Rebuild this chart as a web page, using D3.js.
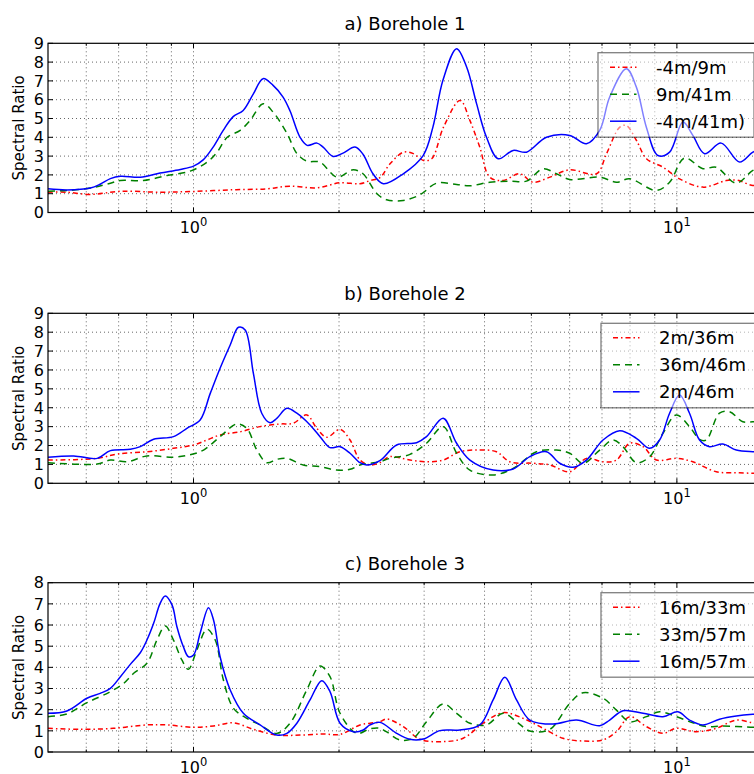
<!DOCTYPE html>
<html><head><meta charset="utf-8">
<script src="https://cdn.jsdelivr.net/npm/d3@7"></script>
<style>body{margin:0;background:#fff}svg{display:block}text{font-family:"DejaVu Sans",sans-serif;fill:#000}</style>
</head><body><svg id="chart" width="754" height="774"></svg>
<script>
// ---------- data ----------
const panelTitles = ["a) Borehole 1", "b) Borehole 2", "c) Borehole 3"];
const yLabel = "Spectral Ratio";
const xDomain = [0.5, 15];
const xTickValues = [1, 10];
const xTickLabels = [["10", "0"], ["10", "1"]];
const xMinorTicks = [0.6, 0.7, 0.8, 0.9, 2, 3, 4, 5, 6, 7, 8, 9];
const yTicksAB = [0, 1, 2, 3, 4, 5, 6, 7, 8, 9];
const yTicksC = [0, 1, 2, 3, 4, 5, 6, 7, 8];
const legendA = ["-4m/9m", "9m/41m", "-4m/41m)"];
const legendB = ["2m/36m", "36m/46m", "2m/46m"];
const legendC = ["16m/33m", "33m/57m", "16m/57m"];

// Borehole 1  [frequency, spectral ratio]
const aRed = [[0.5,1.08],[0.547,1.08],[0.612,0.96],[0.706,1.13],[0.853,1.08],[1.0,1.12],[1.21,1.21],[1.42,1.26],[1.58,1.4],[1.80,1.31],[2.01,1.58],[2.21,1.53],[2.32,1.7],[2.43,1.85],[2.55,2.59],[2.72,3.21],[2.85,3.13],[2.99,2.77],[3.11,2.86],[3.29,4.54],[3.56,5.96],[3.73,4.9],[3.91,3.48],[4.10,1.88],[4.37,1.7],[4.73,2.06],[5.04,1.61],[5.46,1.88],[6.0,2.27],[6.82,2.06],[7.15,3.12],[7.62,4.54],[7.86,4.63],[8.25,3.83],[8.65,2.86],[9.36,2.41],[10.13,1.79],[11.32,1.35],[12.65,1.70],[13.3,1.72],[14.36,1.44],[15,1.5]];
const aGreen = [[0.5,1.13],[0.547,1.17],[0.612,1.3],[0.673,1.56],[0.706,1.7],[0.787,1.7],[0.882,1.97],[0.984,2.2],[1.067,2.68],[1.119,3.21],[1.174,4.0],[1.249,4.37],[1.31,4.9],[1.393,5.79],[1.461,5.34],[1.562,4.19],[1.638,3.12],[1.718,2.73],[1.827,2.68],[1.981,1.88],[2.138,2.27],[2.242,2.06],[2.396,1.0],[2.51,0.68],[2.716,0.64],[2.94,0.94],[3.184,1.56],[3.502,1.49],[3.731,1.42],[4.102,1.61],[4.512,1.67],[4.885,1.67],[5.286,2.33],[5.633,2.06],[6.003,1.76],[6.924,1.88],[7.497,1.61],[7.986,1.79],[9.067,1.17],[9.659,1.61],[10.37,2.9],[11.32,2.33],[12.06,2.41],[13.27,1.56],[14.36,2.24],[15,2.4]];
const aBlue = [[0.5,1.26],[0.547,1.2],[0.612,1.3],[0.641,1.5],[0.673,1.8],[0.706,1.93],[0.776,1.88],[0.853,2.1],[0.939,2.29],[1.0,2.47],[1.047,2.8],[1.098,3.48],[1.152,4.37],[1.208,5.1],[1.267,5.43],[1.329,6.3],[1.393,7.12],[1.461,6.76],[1.532,6.14],[1.584,5.4],[1.661,4.0],[1.718,3.57],[1.801,3.69],[1.854,3.48],[1.944,2.98],[2.039,3.16],[2.158,3.48],[2.242,3.1],[2.351,2.06],[2.47,1.53],[2.716,2.06],[2.986,3.03],[3.128,4.54],[3.281,7.03],[3.502,8.71],[3.673,7.74],[3.851,5.79],[4.038,4.0],[4.268,2.86],[4.584,3.3],[4.885,3.21],[5.373,4.0],[6.003,4.1],[6.5,3.66],[6.924,4.37],[7.261,6.14],[7.862,7.65],[8.245,6.67],[8.647,4.54],[9.136,3.03],[9.659,3.21],[10.29,4.81],[10.79,4.1],[11.41,3.13],[12.35,3.69],[13.48,2.68],[14.36,3.21],[15,3.4]];

// Borehole 2
const bRed = [[0.5,1.23],[0.632,1.32],[0.695,1.55],[0.801,1.67],[0.909,1.85],[1.0,2.03],[1.066,2.29],[1.135,2.56],[1.249,2.73],[1.373,3.0],[1.51,3.14],[1.609,3.18],[1.715,3.62],[1.799,2.91],[1.887,2.44],[2.01,2.86],[2.108,2.29],[2.21,1.23],[2.318,0.97],[2.43,1.09],[2.55,1.41],[2.804,1.23],[3.034,1.14],[3.285,1.23],[3.556,1.67],[3.851,1.76],[4.235,1.67],[4.512,1.14],[5.041,1.06],[5.458,0.97],[6.003,0.61],[6.5,1.32],[7.034,1.14],[7.497,1.23],[7.986,2.12],[8.509,1.94],[9.067,1.23],[9.972,1.32],[10.79,1.14],[12.06,0.61],[13.27,0.56],[14.36,0.53],[15,0.52]];
const bGreen = [[0.5,1.09],[0.632,1.02],[0.673,1.23],[0.729,1.14],[0.801,1.45],[0.909,1.38],[0.984,1.51],[1.049,1.76],[1.135,2.47],[1.229,3.14],[1.289,2.91],[1.352,1.76],[1.418,1.09],[1.487,1.27],[1.56,1.32],[1.687,0.97],[1.827,0.88],[1.978,0.7],[2.108,0.74],[2.21,0.97],[2.318,1.06],[2.43,1.14],[2.55,1.32],[2.804,1.53],[3.034,2.12],[3.285,3.0],[3.502,1.59],[3.731,0.7],[4.167,0.44],[4.584,0.79],[5.123,1.67],[5.633,1.76],[6.003,1.59],[6.396,1.06],[6.924,1.76],[7.377,2.29],[7.735,1.94],[8.245,1.09],[8.783,1.41],[9.357,2.65],[9.972,3.62],[10.62,3.0],[11.14,2.33],[11.5,2.29],[12.25,3.71],[12.85,3.79],[13.69,3.26],[14.36,3.26],[15,3.3]];
const bBlue = [[0.5,1.38],[0.565,1.45],[0.632,1.32],[0.673,1.73],[0.74,1.8],[0.776,1.94],[0.827,2.33],[0.909,2.47],[0.969,2.91],[1.032,3.35],[1.083,4.76],[1.135,6.09],[1.191,7.32],[1.239,8.26],[1.279,8.12],[1.33,5.82],[1.384,3.71],[1.44,3.21],[1.487,3.44],[1.56,3.97],[1.636,3.71],[1.742,3.09],[1.827,2.47],[1.916,1.89],[2.01,1.94],[2.108,1.59],[2.21,1.09],[2.282,0.97],[2.43,1.2],[2.632,2.03],[2.894,2.15],[3.034,2.47],[3.285,3.44],[3.502,2.12],[3.731,1.23],[4.167,0.7],[4.584,0.76],[4.963,1.41],[5.373,1.67],[5.722,1.06],[6.098,0.85],[6.5,1.23],[7.034,2.29],[7.615,2.78],[8.245,2.38],[8.783,1.85],[9.211,2.29],[9.659,3.71],[10.13,4.67],[10.62,3.71],[11.14,2.29],[11.68,1.94],[12.45,2.08],[13.27,1.76],[14.36,1.67],[15,1.66]];

// Borehole 3
const cRed = [[0.5,1.12],[0.583,1.07],[0.683,1.12],[0.801,1.28],[0.881,1.28],[1.0,1.17],[1.1,1.23],[1.21,1.38],[1.33,1.07],[1.487,0.8],[1.661,0.8],[1.857,0.85],[2.01,0.83],[2.21,1.28],[2.318,1.36],[2.43,1.43],[2.51,1.56],[2.716,1.2],[2.94,0.6],[3.285,0.49],[3.614,0.65],[3.974,1.36],[4.37,1.86],[4.807,1.59],[5.286,1.12],[5.813,0.65],[6.396,0.52],[7.034,0.57],[7.497,0.96],[7.986,1.67],[8.647,1.2],[9.357,0.88],[9.972,1.12],[10.97,0.96],[12.06,1.12],[13.27,1.51],[14.36,1.38],[15,1.35]];
const cGreen = [[0.5,1.67],[0.547,1.8],[0.602,2.33],[0.673,2.85],[0.717,3.24],[0.752,3.72],[0.801,4.19],[0.84,5.29],[0.874,5.95],[0.909,5.29],[0.946,4.35],[0.976,3.91],[1.016,4.82],[1.066,5.8],[1.109,5.29],[1.153,3.4],[1.21,2.06],[1.289,1.59],[1.373,1.28],[1.487,0.88],[1.584,1.36],[1.715,2.93],[1.827,4.06],[1.916,3.56],[2.01,1.83],[2.176,0.88],[2.318,1.1],[2.43,1.12],[2.51,0.95],[2.674,0.57],[2.848,0.65],[3.034,1.43],[3.285,2.27],[3.502,1.83],[3.731,1.36],[4.038,1.28],[4.37,1.83],[4.659,1.43],[4.963,0.99],[5.458,1.07],[6.003,2.3],[6.396,2.8],[7.034,2.54],[7.497,1.98],[7.986,1.43],[8.647,1.67],[9.211,1.9],[9.972,1.67],[10.79,1.38],[11.5,1.2],[12.45,1.23],[14.36,1.17],[15,1.17]];
const cBlue = [[0.5,1.83],[0.547,1.94],[0.602,2.54],[0.641,2.77],[0.673,3.01],[0.706,3.56],[0.74,4.14],[0.776,4.69],[0.801,5.29],[0.827,6.08],[0.853,7.02],[0.874,7.37],[0.903,6.94],[0.924,5.92],[0.953,4.97],[0.976,4.5],[1.0,4.58],[1.032,5.61],[1.074,6.82],[1.1,6.24],[1.135,4.5],[1.191,2.93],[1.268,1.83],[1.373,1.28],[1.487,0.8],[1.56,0.88],[1.636,1.36],[1.742,2.46],[1.842,3.37],[1.916,2.85],[2.01,1.36],[2.141,0.96],[2.245,1.04],[2.318,1.28],[2.43,1.4],[2.632,0.88],[2.804,0.6],[2.986,0.61],[3.234,1.01],[3.556,1.04],[3.912,1.28],[4.167,2.46],[4.406,3.53],[4.659,2.46],[4.963,1.51],[5.544,1.32],[6.197,1.51],[6.924,1.24],[7.261,1.51],[7.735,1.95],[8.509,1.83],[9.357,1.67],[10.05,1.9],[10.62,1.51],[11.32,1.28],[12.25,1.55],[13.27,1.7],[14.36,1.78],[15,1.8]];

// ---------- drawing ----------
const svg = d3.select("#chart");
const X0 = 48, X1 = 762;
const styles = [
  {color: "#ff0000", dash: "5,3,1.5,3"},
  {color: "#008000", dash: "7,5"},
  {color: "#0000ff", dash: null}
];
const panels = [
  {top: 43.3, bottom: 212.5, yMax: 9, yTicks: yTicksAB, series: [aRed, aGreen, aBlue], legend: legendA, lx: 598, ly: 52.7},
  {top: 313.3, bottom: 483.3, yMax: 9, yTicks: yTicksAB, series: [bRed, bGreen, bBlue], legend: legendB, lx: 601, ly: 323.3},
  {top: 582.7, bottom: 752, yMax: 8, yTicks: yTicksC, series: [cRed, cGreen, cBlue], legend: legendC, lx: 601, ly: 592.7}
];

const x = d3.scaleLog().domain(xDomain).range([X0, X1]);

panels.forEach((p, i) => {
  const y = d3.scaleLinear().domain([0, p.yMax]).range([p.bottom, p.top]);
  const g = svg.append("g");
  const clipId = "clip" + i;
  svg.append("clipPath").attr("id", clipId).append("rect")
    .attr("x", X0).attr("y", p.top).attr("width", X1 - X0).attr("height", p.bottom - p.top);

  // grid
  const grid = g.append("g").attr("stroke", "#000").attr("stroke-width", 0.8)
    .attr("stroke-dasharray", "1,3").attr("opacity", 0.75);
  xTickValues.concat(xMinorTicks).forEach(v => {
    grid.append("line").attr("x1", x(v)).attr("x2", x(v)).attr("y1", p.top).attr("y2", p.bottom);
  });
  p.yTicks.slice(1, -1).forEach(v => {
    grid.append("line").attr("x1", X0).attr("x2", X1).attr("y1", y(v)).attr("y2", y(v));
  });

  // lines
  const line = d3.line().x(d => x(d[0])).y(d => y(d[1])).curve(d3.curveCatmullRom.alpha(0.5));
  const lg = g.append("g").attr("clip-path", `url(#${clipId})`);
  p.series.forEach((s, k) => {
    lg.append("path").datum(s).attr("d", line).attr("fill", "none")
      .attr("stroke", styles[k].color).attr("stroke-width", 1.5)
      .attr("stroke-dasharray", styles[k].dash);
  });

  // ticks (inside)
  const tk = g.append("g").attr("stroke", "#000").attr("stroke-width", 1);
  xTickValues.forEach(v => {
    tk.append("line").attr("x1", x(v)).attr("x2", x(v)).attr("y1", p.bottom).attr("y2", p.bottom - 5);
    tk.append("line").attr("x1", x(v)).attr("x2", x(v)).attr("y1", p.top).attr("y2", p.top + 5);
  });
  xMinorTicks.forEach(v => {
    tk.append("line").attr("x1", x(v)).attr("x2", x(v)).attr("y1", p.bottom).attr("y2", p.bottom - 2.5);
    tk.append("line").attr("x1", x(v)).attr("x2", x(v)).attr("y1", p.top).attr("y2", p.top + 2.5);
  });
  p.yTicks.forEach(v => {
    tk.append("line").attr("x1", X0).attr("x2", X0 + 5).attr("y1", y(v)).attr("y2", y(v));
  });

  // spines
  g.append("rect").attr("x", X0).attr("y", p.top).attr("width", X1 - X0).attr("height", p.bottom - p.top)
    .attr("fill", "none").attr("stroke", "#000").attr("stroke-width", 1.2);

  // y tick labels
  p.yTicks.forEach(v => {
    g.append("text").attr("x", X0 - 4).attr("y", y(v)).attr("dy", "0.36em")
      .attr("text-anchor", "end").attr("font-size", 16).text(v);
  });
  // x tick labels (10^n)
  xTickValues.forEach((v, k) => {
    const t = g.append("text").attr("x", x(v)).attr("y", p.bottom + 20.5)
      .attr("text-anchor", "middle").attr("font-size", 16);
    t.append("tspan").text(xTickLabels[k][0]);
    t.append("tspan").attr("dy", -7).attr("font-size", 11.5).text(xTickLabels[k][1]);
  });

  // y label
  g.append("text").attr("transform", `translate(24,${(p.top + p.bottom) / 2}) rotate(-90)`)
    .attr("text-anchor", "middle").attr("font-size", 15).text(yLabel);

  // title
  g.append("text").attr("x", (X0 + X1) / 2).attr("y", p.top - 13)
    .attr("text-anchor", "middle").attr("font-size", 18).text(panelTitles[i]);

  // legend
  const lw = 156, lh = 84.5;
  const leg = g.append("g");
  leg.append("rect").attr("x", p.lx).attr("y", p.ly).attr("width", lw).attr("height", lh)
    .attr("fill", "#fff").attr("fill-opacity", 0.5).attr("stroke", "#000").attr("stroke-opacity", 0.5)
    .attr("stroke-width", 1.3);
  p.legend.forEach((name, k) => {
    const cy = p.ly + 14.5 + k * 27;
    leg.append("line").attr("x1", p.lx + 12).attr("x2", p.lx + 38.5).attr("y1", cy).attr("y2", cy)
      .attr("stroke", styles[k].color).attr("stroke-width", 1.5).attr("stroke-dasharray", styles[k].dash);
    leg.append("text").attr("x", p.lx + 58).attr("y", cy).attr("dy", "0.36em")
      .attr("font-size", 18).text(name);
  });
});
</script></body></html>
